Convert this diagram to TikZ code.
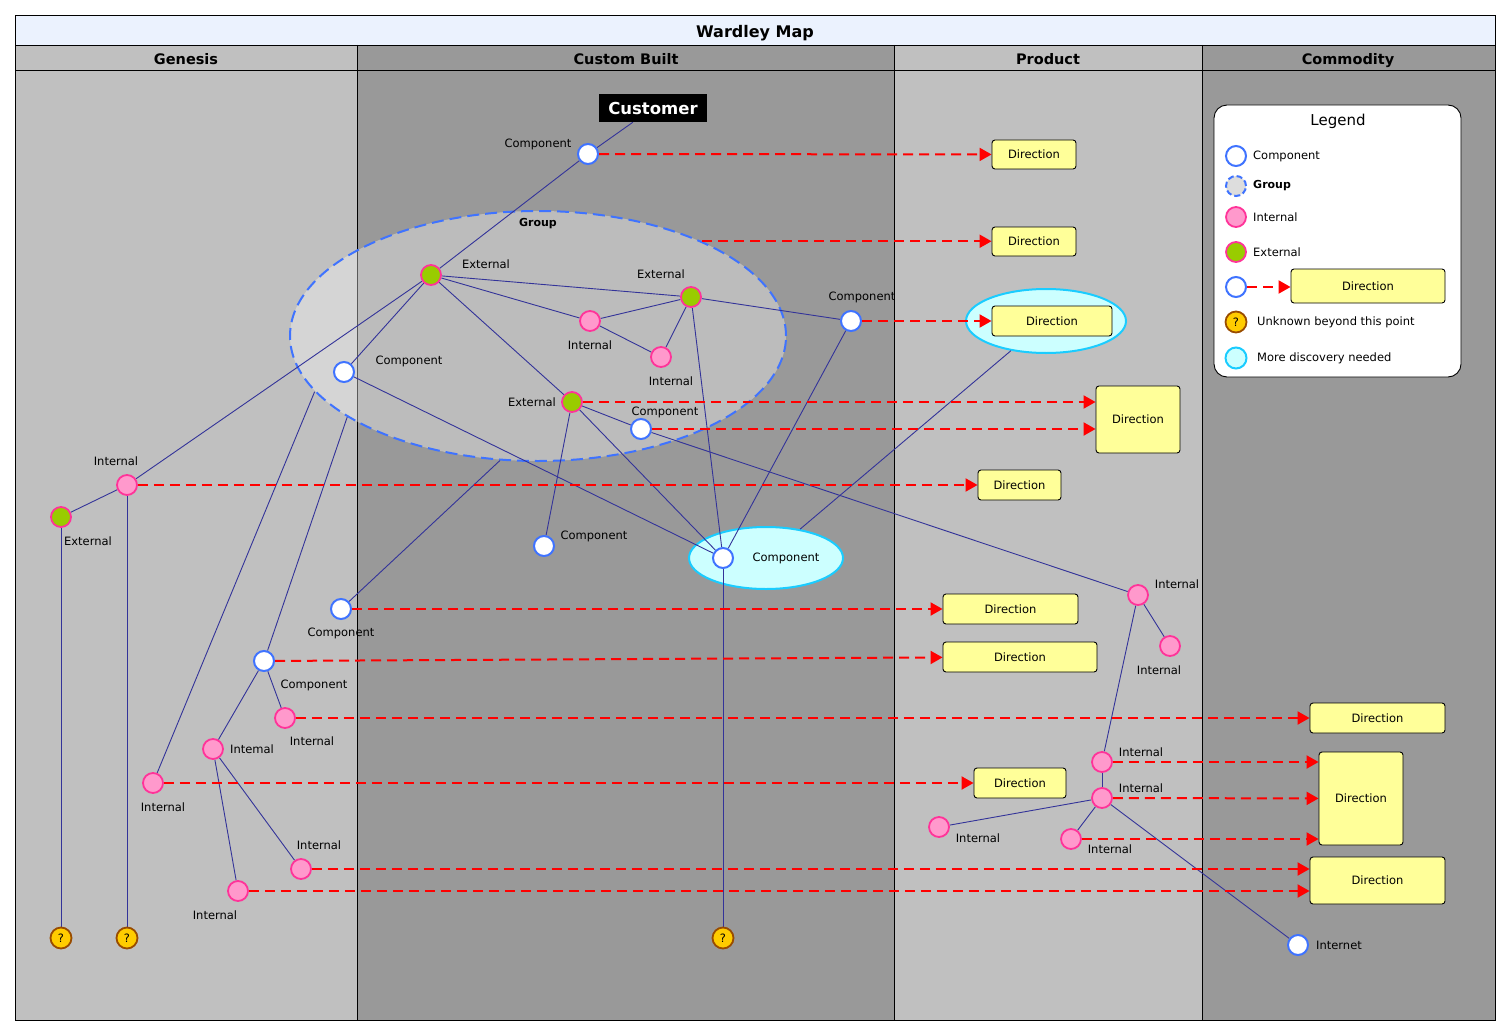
\documentclass[tikz,border=0pt]{standalone}
\usepackage{fontspec}
\setmainfont{DejaVu Sans}
\usetikzlibrary{shapes.geometric,arrows.meta}
\pgfdeclarelayer{back}
\pgfdeclarelayer{edgelayer}
\pgfsetlayers{back,edgelayer,main}
\definecolor{lanelight}{HTML}{C0C0C0}
\definecolor{lanedark}{HTML}{999999}
\definecolor{titlebg}{HTML}{EBF2FE}
\definecolor{compblue}{HTML}{3F73FF}
\definecolor{pinkline}{HTML}{FF3399}
\definecolor{pinkfill}{HTML}{FF99CC}
\definecolor{extgreen}{HTML}{99CC00}
\definecolor{qfill}{HTML}{FFCC00}
\definecolor{qline}{HTML}{994C00}
\definecolor{edgeblue}{HTML}{333399}
\definecolor{dirfill}{HTML}{FFFF99}
\definecolor{cyanfill}{HTML}{CCFFFF}
\definecolor{cyanline}{HTML}{1ACCFF}
\definecolor{dirred}{HTML}{FF0000}
\tikzset{
 lbl/.style={font=\fontsize{11.5}{13}\selectfont, inner sep=0pt},
 comp/.style={circle, minimum size=20pt, inner sep=0pt, draw=compblue, line width=2pt, fill=white},
 intl/.style={circle, minimum size=20pt, inner sep=0pt, draw=pinkline, line width=1.8pt, fill=pinkfill},
 extl/.style={intl, fill=extgreen},
 qmark/.style={circle, minimum size=21pt, inner sep=0pt, draw=qline, line width=1.8pt, fill=qfill, font=\fontsize{11.5}{12}\selectfont},
 dirbox/.style={draw=black, line width=0.9pt, fill=dirfill, rounded corners=3pt, inner sep=0pt, font=\fontsize{11.5}{13}\selectfont},
 link/.style={draw=edgeblue, line width=0.9pt},
 dirarrow/.style={draw=dirred, line width=2pt, dash pattern=on 10pt off 6pt, -{Triangle[length=12pt,width=13pt]}},
 discovery/.style={ellipse, draw=cyanline, line width=2pt, fill=cyanfill, inner sep=0pt},
 lanehead/.style={font=\bfseries\fontsize{14.5}{16}\selectfont, inner sep=0pt, anchor=base},
}
\begin{document}
\begin{tikzpicture}[x=1pt,y=-1pt]
\useasboundingbox (0,0) rectangle (1511,1035);
\begin{pgfonlayer}{back}
\fill[white] (0,0) rectangle (1511,1035);
\fill[lanelight] (15,45) rectangle (357,1020);
\fill[lanedark] (357,45) rectangle (894,1020);
\fill[lanelight] (894,45) rectangle (1202,1020);
\fill[lanedark] (1202,45) rectangle (1495,1020);
\fill[titlebg] (15,15) rectangle (1495,45);
\draw[line width=0.9pt] (15,15) rectangle (1495,1020);
\draw[line width=0.9pt] (15,45) -- (1495,45) (15,70) -- (1495,70);
\draw[line width=0.9pt] (357,45) -- (357,1020) (894,45) -- (894,1020) (1202,45) -- (1202,1020);
\node[font=\bfseries\fontsize{16}{18}\selectfont, inner sep=0pt, anchor=base] (title) at (755,38) {Wardley Map};
\node[lanehead] (hgen) at (186,65) {Genesis};
\node[lanehead] (hcus) at (626,65) {Custom Built};
\node[lanehead] (hprod) at (1048,65) {Product};
\node[lanehead] (hcom) at (1348,65) {Commodity};
\node[ellipse, minimum width=496pt, minimum height=250pt, inner sep=0pt, draw=compblue, line width=2pt, dash pattern=on 12pt off 6pt, fill=white, fill opacity=0.35] (group) at (538,336) {};
\node[discovery, minimum width=154pt, minimum height=62pt] (c6disc) at (766,558) {};
\node[discovery, minimum width=160pt, minimum height=64pt] (d3disc) at (1046,321) {};
\end{pgfonlayer}

% customer
\node[fill=black, text=white, font=\bfseries\fontsize{16.5}{18}\selectfont, minimum width=108pt, minimum height=28pt, inner sep=0pt] (customer) at (653,108) {Customer};

% components
\node[comp] (c1) at (588,154) {};
\node[extl] (e1) at (431,275) {};
\node[extl] (e2) at (691,297) {};
\node[intl] (i1) at (590,321) {};
\node[intl] (i2) at (661,357) {};
\node[comp] (c2) at (344,372) {};
\node[extl] (e3) at (572,402) {};
\node[comp] (c3) at (641,429) {};
\node[comp] (c4) at (851,321) {};
\node[intl] (i3) at (127,485) {};
\node[extl] (e4) at (61,517) {};
\node[comp] (c5) at (544,546) {};
\node[comp] (c6) at (723,558) {};
\node[comp] (c7) at (341,609) {};
\node[comp] (c8) at (264,661) {};
\node[intl] (i4) at (285,718) {};
\node[intl] (i5) at (213,749) {};
\node[intl] (i6) at (153,783) {};
\node[intl] (i7) at (301,869) {};
\node[intl] (i8) at (238,891) {};
\node[intl] (i9) at (1138,595) {};
\node[intl] (i10) at (1170,646) {};
\node[intl] (i11) at (1102,762) {};
\node[intl] (i12) at (1102,798) {};
\node[intl] (i13) at (939,827) {};
\node[intl] (i14) at (1071,839) {};
\node[comp] (inet) at (1298,945) {};
\node[qmark] (q1) at (61,938) {?};
\node[qmark] (q2) at (127,938) {?};
\node[qmark] (q3) at (723,938) {?};

% labels
\node[lbl] (c1l) at (538,144) {Component};
\node[lbl, font=\bfseries\fontsize{11}{13}\selectfont] (grpl) at (538,224) {Group};
\node[lbl] (e1l) at (486,264) {External};
\node[lbl] (e2l) at (661,274) {External};
\node[lbl] (i1l) at (590,345) {Internal};
\node[lbl] (i2l) at (671,381) {Internal};
\node[lbl] (c2l) at (409,361) {Component};
\node[lbl] (e3l) at (532,402) {External};
\node[lbl] (c3l) at (665,412) {Component};
\node[lbl] (c4l) at (862,297) {Component};
\node[lbl] (i3l) at (116,461) {Internal};
\node[lbl] (e4l) at (88,541) {External};
\node[lbl] (c5l) at (594,536) {Component};
\node[lbl] (c6l) at (786,558) {Component};
\node[lbl] (c7l) at (341,633) {Component};
\node[lbl] (c8l) at (314,685) {Component};
\node[lbl] (i4l) at (312,741) {Internal};
\node[lbl] (i5l) at (252,749) {Intemal};
\node[lbl] (i6l) at (163,807) {Internal};
\node[lbl] (i7l) at (319,845) {Internal};
\node[lbl] (i8l) at (215,915) {Internal};
\node[lbl] (i9l) at (1177,584) {Internal};
\node[lbl] (i10l) at (1159,670) {Internal};
\node[lbl] (i11l) at (1141,752) {Internal};
\node[lbl] (i12l) at (1141,788) {Internal};
\node[lbl] (i13l) at (978,838) {Internal};
\node[lbl] (i14l) at (1110,849) {Internal};
\node[lbl] (inetl) at (1339,945) {Internet};

% direction boxes
\node[dirbox, minimum width=84pt, minimum height=29pt] (d1) at (1034,154.5) {Direction};
\node[dirbox, minimum width=84pt, minimum height=29pt] (d2) at (1034,241.5) {Direction};
\node[dirbox, minimum width=120pt, minimum height=30pt] (d3) at (1052,321) {Direction};
\node[dirbox, minimum width=84pt, minimum height=67pt] (d4) at (1138,419.5) {Direction};
\node[dirbox, minimum width=83pt, minimum height=30pt] (d5) at (1019.5,485) {Direction};
\node[dirbox, minimum width=135pt, minimum height=30pt] (d6) at (1010.5,609) {Direction};
\node[dirbox, minimum width=154pt, minimum height=30pt] (d7) at (1020,657) {Direction};
\node[dirbox, minimum width=135pt, minimum height=30pt] (d8) at (1377.5,718) {Direction};
\node[dirbox, minimum width=92pt, minimum height=30pt] (d9) at (1020,783) {Direction};
\node[dirbox, minimum width=84pt, minimum height=93pt] (d10) at (1361,798.5) {Direction};
\node[dirbox, minimum width=135pt, minimum height=47pt] (d11) at (1377.5,880.5) {Direction};

% legend
\node[draw=black, line width=0.9pt, fill=white, rounded corners=13pt, minimum width=247pt, minimum height=272pt, inner sep=0pt] (legend) at (1337.5,241) {};
\node[lbl, font=\fontsize{15}{17}\selectfont] (legt) at (1338,121) {Legend};
\node[comp] (lc) at (1236,156) {};
\node[lbl, anchor=west] (lct) at (1253,156) {Component};
\node[circle, minimum size=20pt, inner sep=0pt, draw=compblue, line width=2pt, dash pattern=on 6pt off 3pt, fill={rgb,255:red,221;green,221;blue,221}] (lg) at (1236,186) {};
\node[lbl, anchor=west, font=\bfseries\fontsize{11}{13}\selectfont] (lgt) at (1253,186) {Group};
\node[intl] (li) at (1236,217) {};
\node[lbl, anchor=west] (lit) at (1253,217) {Internal};
\node[extl] (le) at (1236,252) {};
\node[lbl, anchor=west] (let) at (1253,252) {External};
\node[comp] (ld) at (1236,287) {};
\node[dirbox, minimum width=154pt, minimum height=34pt] (ldbox) at (1368,286) {Direction};
\draw[dirarrow] (ld) -- (ld -| ldbox.west);
\node[qmark] (lq) at (1236,322) {?};
\node[lbl, anchor=west] (lqt) at (1257,322) {Unknown beyond this point};
\node[discovery, minimum width=21pt, minimum height=21pt] (lm) at (1236,358) {};
\node[lbl, anchor=west] (lmt) at (1257,358) {More discovery needed};

\begin{pgfonlayer}{edgelayer}
\draw[link] (customer) -- (c1);
\draw[link] (c1) -- (e1);
\draw[link] (e1) -- (e2);
\draw[link] (e1) -- (i1);
\draw[link] (i1) -- (e2);
\draw[link] (i1) -- (i2);
\draw[link] (e2) -- (i2);
\draw[link] (e2) -- (c4);
\draw[link] (e2) -- (c6);
\draw[link] (e1) -- (c2);
\draw[link] (e1) -- (i3);
\draw[link] (e1) -- (e3);
\draw[link] (e3) -- (c6);
\draw[link] (e3) -- (c5);
\draw[link] (e3) -- (c3);
\draw[link] (c2) -- (c6);
\draw[link] (c3) -- (i9);
\draw[link] (c4) -- (c6);
\draw[link] (d3disc) -- (c6disc);
\draw[link] (i3) -- (e4);
\draw[link] (e4) -- (q1);
\draw[link] (i3) -- (q2);
\draw[link] (c6) -- (q3);
\draw[link] (group.194) -- (i6);
\draw[link] (group.203) -- (c8);
\draw[link] (group.253) -- (c7);
\draw[link] (c8) -- (i4);
\draw[link] (c8) -- (i5);
\draw[link] (i5) -- (i7);
\draw[link] (i5) -- (i8);
\draw[link] (i9) -- (i10);
\draw[link] (i9) -- (i11);
\draw[link] (i11) -- (i12);
\draw[link] (i12) -- (i13);
\draw[link] (i12) -- (i14);
\draw[link] (i12) -- (inet);

\draw[dirarrow] (c1) -- (d1);
\draw[dirarrow] (group.30) -- (group.30 -| d2.west);
\draw[dirarrow] (c4) -- (d3);
\draw[dirarrow] (e3) -- (e3 -| d4.west);
\draw[dirarrow] (c3) -- (c3 -| d4.west);
\draw[dirarrow] (i3) -- (d5);
\draw[dirarrow] (c7) -- (d6);
\draw[dirarrow] (c8) -- (d7);
\draw[dirarrow] (i4) -- (d8);
\draw[dirarrow] (i6) -- (d9);
\draw[dirarrow] (i11) -- (i11 -| d10.west);
\draw[dirarrow] (i12) -- (d10);
\draw[dirarrow] (i14) -- (i14 -| d10.west);
\draw[dirarrow] (i7) -- (i7 -| d11.west);
\draw[dirarrow] (i8) -- (i8 -| d11.west);
\end{pgfonlayer}
\end{tikzpicture}
\end{document}
